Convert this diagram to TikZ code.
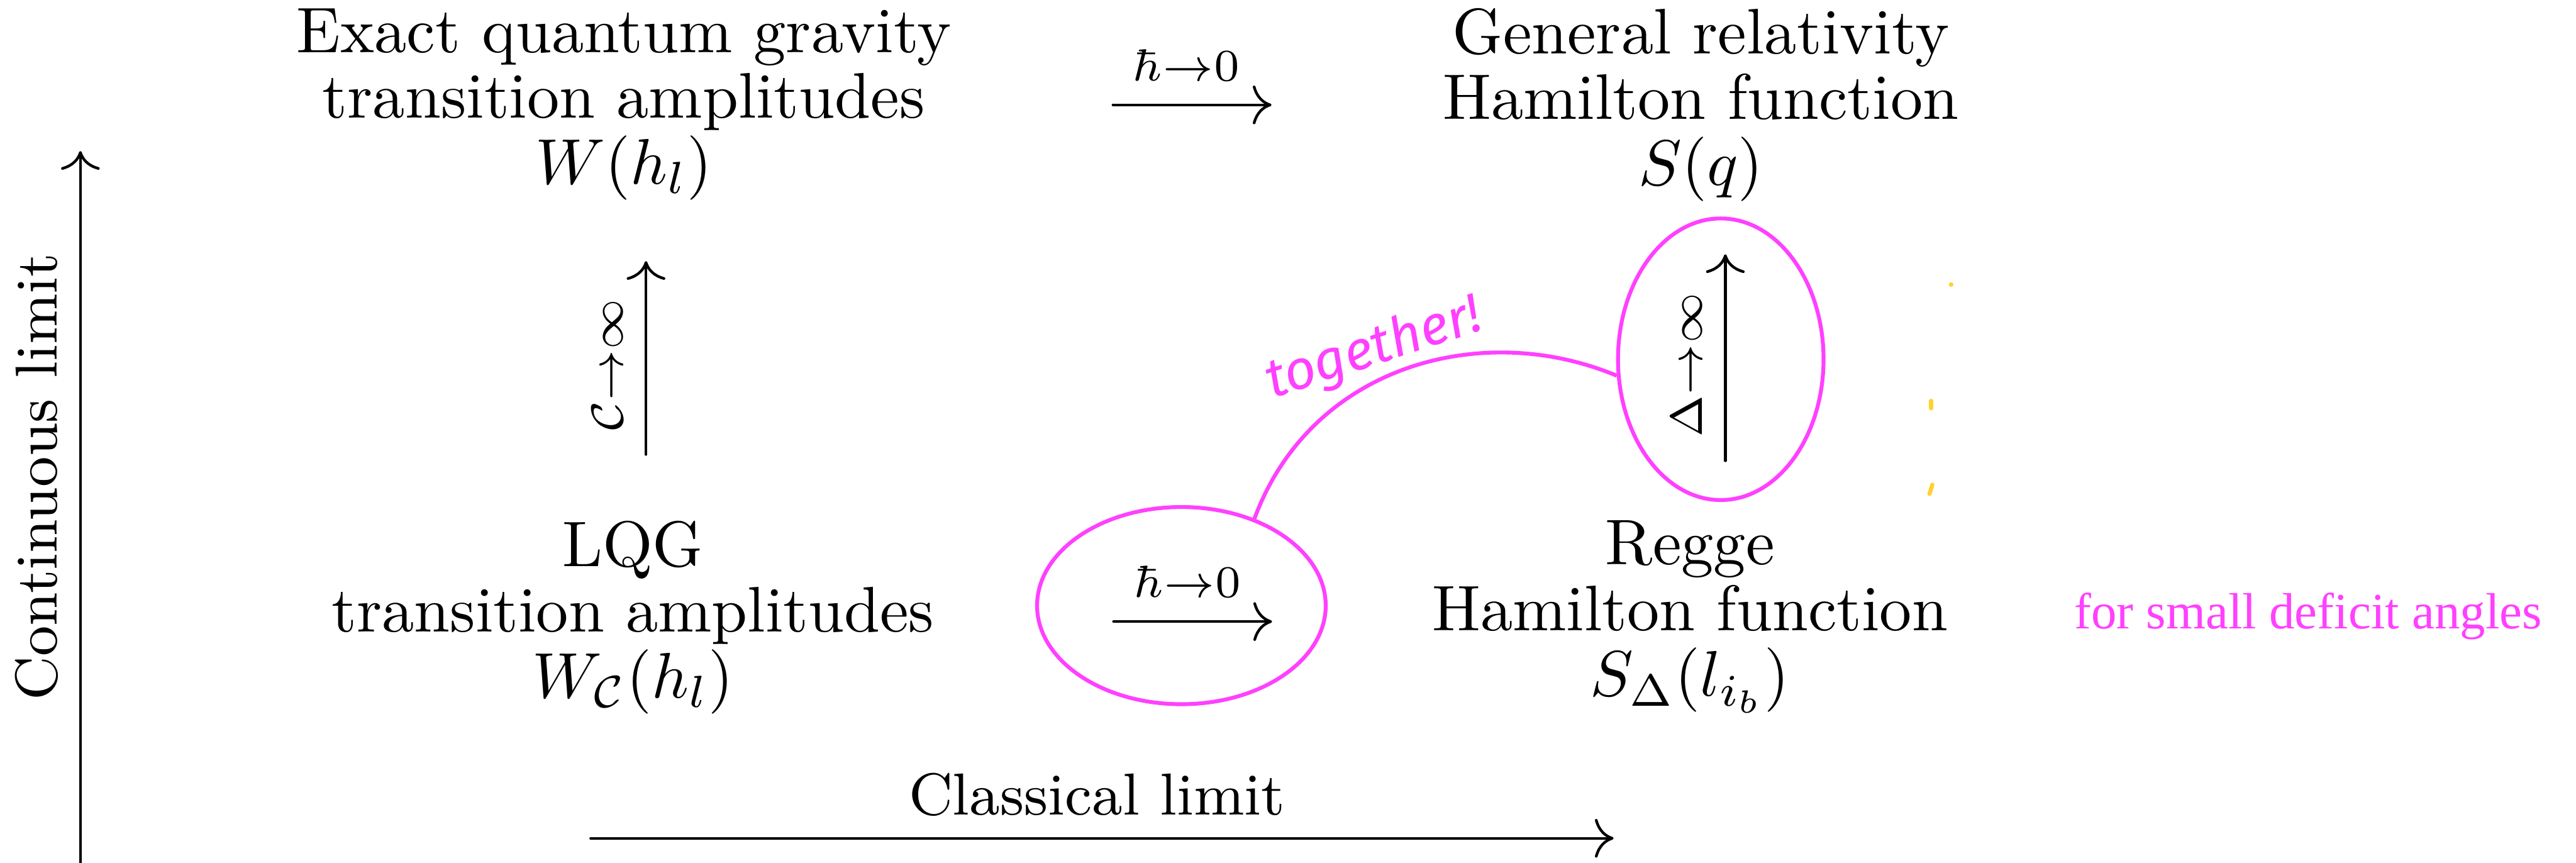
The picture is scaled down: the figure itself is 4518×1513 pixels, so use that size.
\documentclass[tikz,border=0pt]{standalone}
\usepackage{amsmath}
\usepackage{fontspec}
\newfontfamily\notefont{Liberation Serif}
\newfontfamily\handfont{Fira Sans}
\usetikzlibrary{arrows.meta,shapes.geometric}
\definecolor{mag}{HTML}{FF40FF}
\definecolor{hl}{HTML}{FFD22E}
\tikzset{
  cmarrow/.style={-{Computer Modern Rightarrow[length=2.9pt,width=6pt]}, line width=0.42pt, line cap=round},
  block/.style={align=center, anchor=north, inner sep=0pt, font=\fontsize{10}{10.2}\selectfont},
  lbl/.style={inner sep=0pt, anchor=base},
  axislbl/.style={inner sep=0pt, anchor=base, font=\fontsize{9.2}{11}\selectfont},
  loop/.style={draw=mag, line width=0.6pt, ellipse, inner sep=0pt},
  marker/.style={hl, line width=0.65pt, line cap=round},
}
\begin{document}
\begin{tikzpicture}[x=0.0885pt,y=-0.0885pt]
\fill[white] (0,0) rectangle (4518,1513);
\useasboundingbox (0,0) rectangle (4518,1513);

% main blocks
\node[block] (tl) at (1094,13) {Exact quantum gravity\\transition amplitudes\\$W(h_l)$};
\node[block] (tr) at (2983,12) {General relativity\\Hamilton function\\$S(q)$};
\node[block] (bl) at (1110,911) {LQG\\transition amplitudes\\$W_{\mathcal{C}}(h_l)$};
\node[block] (br) at (2964,911) {Regge\\Hamilton function\\$S_\Delta(l_{i_b})$};

% top limit arrow
\coordinate (ts) at (1952,184);
\coordinate (te) at (2230,184);
\draw[cmarrow] (ts) -- (te);
\node[lbl] (tlab) at (2081,142) {$\scriptstyle\hbar\to0$};

% bottom limit arrow
\coordinate (bs) at (1953,1090);
\coordinate (be) at (2231,1090);
\draw[cmarrow] (bs) -- (be);
\node[lbl] (blab) at (2083,1047) {$\scriptstyle\hbar\to0$};

% left vertical arrow
\coordinate (ls) at (1133,797);
\coordinate (le) at (1133,458);
\draw[cmarrow] (ls) -- (le);
\node[lbl, rotate=90] (llab) at (1092,640) {$\scriptstyle\mathcal{C}\to\infty$};

% right vertical arrow
\coordinate (rs) at (3026,808);
\coordinate (re) at (3026,446);
\draw[cmarrow] (rs) -- (re);
\node[lbl, rotate=90] (rlab) at (2985,640) {$\scriptstyle\Delta\to\infty$};

% axes
\coordinate (ax0) at (141,1513);
\coordinate (ax1) at (141,265);
\draw[cmarrow] (ax0) -- (ax1);
\node[axislbl, rotate=90] (axl) at (100,836) {Continuous limit};
\coordinate (bx0) at (1036,1470);
\coordinate (bx1) at (2830,1470);
\draw[cmarrow] (bx0) -- (bx1);
\node[axislbl] (bxl) at (1924,1429) {Classical limit};

% magenta annotations
\node[loop, minimum width=44.8pt, minimum height=30.6pt] (e1) at (2072,1062) {};
\node[loop, minimum width=31.9pt, minimum height=43.7pt] (e2) at (3018,630) {};
\draw[mag, line width=0.6pt] (e1.50) .. controls (2300,640) and (2600,560) .. (e2.189);
\node[lbl, rotate=18, text=mag, font=\handfont\itshape\fontsize{8.5}{10}\selectfont] (tog) at (2418,638) {together!};
\node[lbl, text=mag, font=\notefont\fontsize{7.9}{9.5}\selectfont] (note) at (4048,1102) {for small deficit angles};

% small yellow marks
\fill[hl] (3422,499) circle (4);
\draw[marker] (3387,703) -- (3387,716);
\draw[marker] (3389,850) -- (3384,866);
\end{tikzpicture}
\end{document}
